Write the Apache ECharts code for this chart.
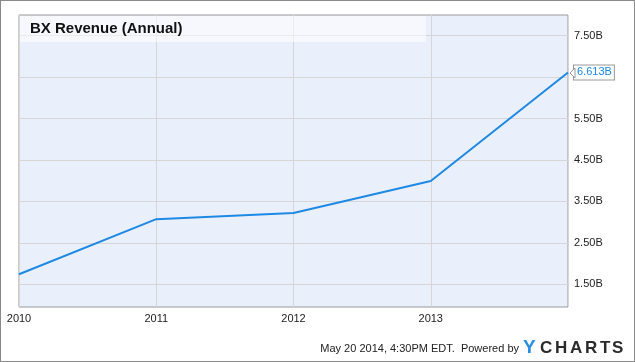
<!DOCTYPE html>
<html>
<head>
<meta charset="utf-8">
<script src="https://cdn.jsdelivr.net/npm/echarts@6/dist/echarts.min.js"></script>
<style>
  html, body { margin: 0; padding: 0; background: #fff; }
  #wrap { width: 635px; height: 362px; box-sizing: border-box; border: 1px solid #8a8a8a; position: relative; }
  #chart { position: absolute; left: -1px; top: -1px; width: 635px; height: 362px; }
</style>
</head>
<body>
<div id="wrap"><div id="chart"></div></div>
<script>
// Data
const years = [2010, 2011, 2012, 2013, 2014];
const revenueB = [1.74, 3.07, 3.22, 3.99, 6.613];
const yTickValues = [1.5, 2.5, 3.5, 4.5, 5.5, 6.5, 7.5];
const yTickLabels = ['1.50B', '2.50B', '3.50B', '4.50B', '5.50B', '', '7.50B'];
const xTickLabels = ['2010', '2011', '2012', '2013', ''];
const titleText = 'BX Revenue (Annual)';
const footerText = 'May 20 2014, 4:30PM EDT.  Powered by';
const endLabelText = '6.613B';

const FONT = '"Liberation Sans", Arial, sans-serif';
const chart = echarts.init(document.getElementById('chart'));

const logoLetters = ['C', 'H', 'A', 'R', 'T', 'S'];
const logoX = [540, 555, 570, 585, 600, 612];
const graphics = [
  { type: 'rect', shape: { x: 20, y: 16, width: 406, height: 26 }, style: { fill: 'rgba(255,255,255,0.55)' }, z: 10 },
  { type: 'text', x: 30, y: 29, style: { text: titleText, font: 'bold 15px ' + FONT, fill: '#111', textVerticalAlign: 'middle' }, z: 11 },
  { type: 'text', x: 519, y: 349, style: { text: footerText, font: '11px ' + FONT, fill: '#222', textAlign: 'right', textVerticalAlign: 'middle' }, z: 11 },
  { type: 'text', x: 523, y: 348, style: { text: 'Y', font: 'bold 19px ' + FONT, fill: '#2a8fe0', textVerticalAlign: 'middle' }, z: 11 },
  // arrow pointer of end label
  { type: 'polygon', shape: { points: [[570, 73], [575, 68], [575, 78]] }, style: { fill: '#fff', stroke: '#999', lineWidth: 1 }, z: 20 }
];
logoLetters.forEach((c, i) => {
  graphics.push({ type: 'text', x: logoX[i], y: 348, style: { text: c, font: 'bold 17px ' + FONT, fill: '#2b2b2b', textVerticalAlign: 'middle' }, z: 11 });
});

chart.setOption({
  animation: false,
  grid: {
    left: 19, top: 15, right: 67, bottom: 55,
    show: true, backgroundColor: '#eaf0fb', borderColor: '#999', borderWidth: 1
  },
  xAxis: {
    type: 'value', min: 2010, max: 2014, interval: 1,
    axisLine: { show: false }, axisTick: { show: false },
    axisLabel: {
      margin: 6, color: '#222', fontSize: 11, fontFamily: FONT,
      formatter: v => xTickLabels[years.indexOf(v)] || ''
    },
    splitLine: { show: true, lineStyle: { color: '#d6d6d6', width: 1 } }
  },
  yAxis: {
    type: 'value', position: 'right', min: 0.95, max: 8.0,
    axisLine: { show: false },
    axisTick: { show: false, customValues: yTickValues },
    axisLabel: {
      customValues: yTickValues, margin: 6, color: '#222', fontSize: 11, fontFamily: FONT,
      formatter: v => yTickLabels[yTickValues.indexOf(v)] ?? ''
    },
    splitLine: { show: true, lineStyle: { color: '#d6d6d6', width: 1 } }
  },
  series: [{
    type: 'line',
    data: years.map((y, i) => [y, revenueB[i]]),
    symbol: 'none',
    lineStyle: { color: '#1e88e5', width: 2 },
    endLabel: {
      show: true, formatter: endLabelText, distance: 6,
      color: '#1e88e5', fontSize: 11, fontFamily: FONT,
      backgroundColor: '#fff', borderColor: '#999', borderWidth: 1, padding: [2, 2, 1, 3]
    },
    z: 5
  }],
  graphic: graphics
});
</script>
</body>
</html>
